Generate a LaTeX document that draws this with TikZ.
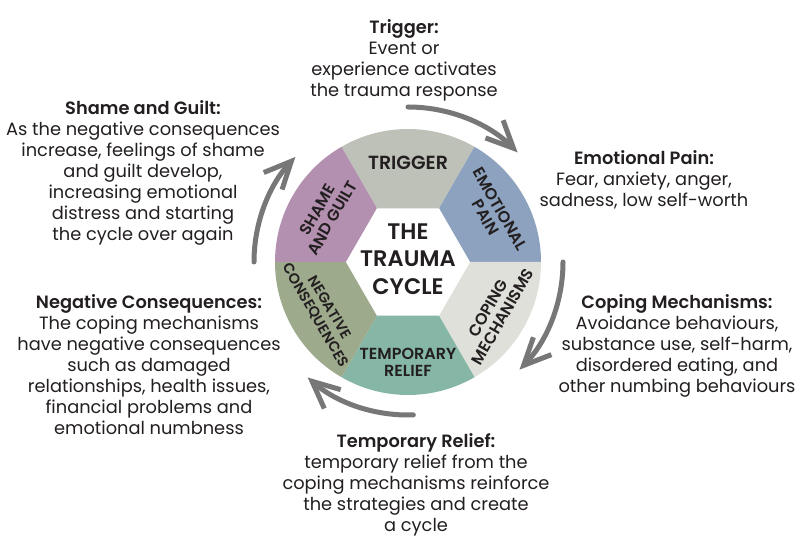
\documentclass[tikz,border=0pt]{standalone}
\usepackage{fontspec}
\setmainfont{Poppins}[BoldFont=* SemiBold]
\usetikzlibrary{arrows.meta,calc}
\definecolor{ink}{HTML}{231F20}
\definecolor{arrowgrey}{HTML}{777777}
\definecolor{trig}{HTML}{BEC1B7}
\definecolor{emo}{HTML}{8DA2BE}
\definecolor{cope}{HTML}{E0E0DA}
\definecolor{relief}{HTML}{86B6A5}
\definecolor{negc}{HTML}{9DAA8C}
\definecolor{shame}{HTML}{B490B0}

\begin{document}
\begin{tikzpicture}[x=1pt,y=1pt,
  seglabel/.style={align=center,font=\bfseries\fontsize{16}{17}\selectfont,text=ink,inner sep=0pt},
  desc/.style={align=center,font=\fontsize{17.8}{21}\selectfont,text=ink,inner sep=0pt,anchor=north},
  cyclearrow/.style={draw=arrowgrey,line width=5pt,line cap=round,
                     -{Straight Barb[length=27pt,width=25pt]}}]
  \useasboundingbox (0,0) rectangle (800,538);
  \fill[white] (0,0) rectangle (800,538);
  \coordinate (c) at (408,276);
  % wheel segments
  \foreach \a/\col in {60/trig,0/emo,-60/cope,-120/relief,180/negc,120/shame}{
    \fill[\col] (c) -- ++(\a:133) arc[start angle=\a,delta angle=60,radius=133pt] -- cycle;
  }
  % centre hexagon
  \fill[white] (c) +(0:62) -- +(60:62) -- +(120:62) -- +(180:62) -- +(240:62) -- +(300:62) -- cycle;
  \node[seglabel,font=\bfseries\fontsize{22.5}{27.5}\selectfont] (core) at ($(c)+(0,3)$) {THE\\TRAUMA\\CYCLE};
  % segment labels
  \node[seglabel,font=\bfseries\fontsize{19}{20}\selectfont] (trigger) at ($(c)+(90:99)$) {TRIGGER};
  \node[seglabel,rotate=-60] (pain) at ($(c)+(30:98)$) {EMOTIONAL\\PAIN};
  \node[seglabel,rotate=60] (coping) at ($(c)+(-30:101)$) {COPING\\MECHANISMS};
  \node[seglabel] (relief) at ($(c)+(-90:100)$) {TEMPORARY\\RELIEF};
  \node[seglabel,rotate=-60,font=\bfseries\fontsize{14.5}{16}\selectfont] (conseq) at ($(c)+(210:99)$) {NEGATIVE\\CONSEQUENCES};
  \node[seglabel,rotate=60] (guilt) at ($(c)+(150:96)$) {SHAME\\AND GUILT};
  % arrows round the wheel
  \draw[cyclearrow] ($(c)+(90:155)$) arc[start angle=90,end angle=45,radius=155pt];
  \draw[cyclearrow] ($(c)+(0:155)$) arc[start angle=0,end angle=-44,radius=155pt];
  \draw[cyclearrow] ($(c)+(-88:153)$) arc[start angle=-88,end angle=-131,radius=153pt];
  \draw[cyclearrow] ($(c)+(180:154)$) arc[start angle=180,end angle=137,radius=154pt];
  % descriptions
  \node[desc] (trigtxt) at (404,519) {\textbf{Trigger:}\\Event or\\experience activates\\the trauma response};
  \node[desc] (paintxt) at (644,388) {\textbf{Emotional Pain:}\\Fear, anxiety, anger,\\sadness, low self-worth};
  \node[desc] (copetxt) at (677,244) {\textbf{Coping Mechanisms:}\\Avoidance behaviours,\\substance use, self-harm,\\disordered eating, and\\other numbing behaviours};
  \node[desc] (relieftxt) at (416,105) {\textbf{Temporary Relief:}\\temporary relief from the\\coping mechanisms reinforce\\the strategies and create\\a cycle};
  \node[desc] (conseqtxt) at (149,244) {\textbf{Negative Consequences:}\\The coping mechanisms\\have negative consequences\\such as damaged\\relationships, health issues,\\financial problems and\\emotional numbness};
  \node[desc] (guilttxt) at (143,438) {\textbf{Shame and Guilt:}\\As the negative consequences\\increase, feelings of shame\\and guilt develop,\\increasing emotional\\distress and starting\\the cycle over again};
\end{tikzpicture}
\end{document}
